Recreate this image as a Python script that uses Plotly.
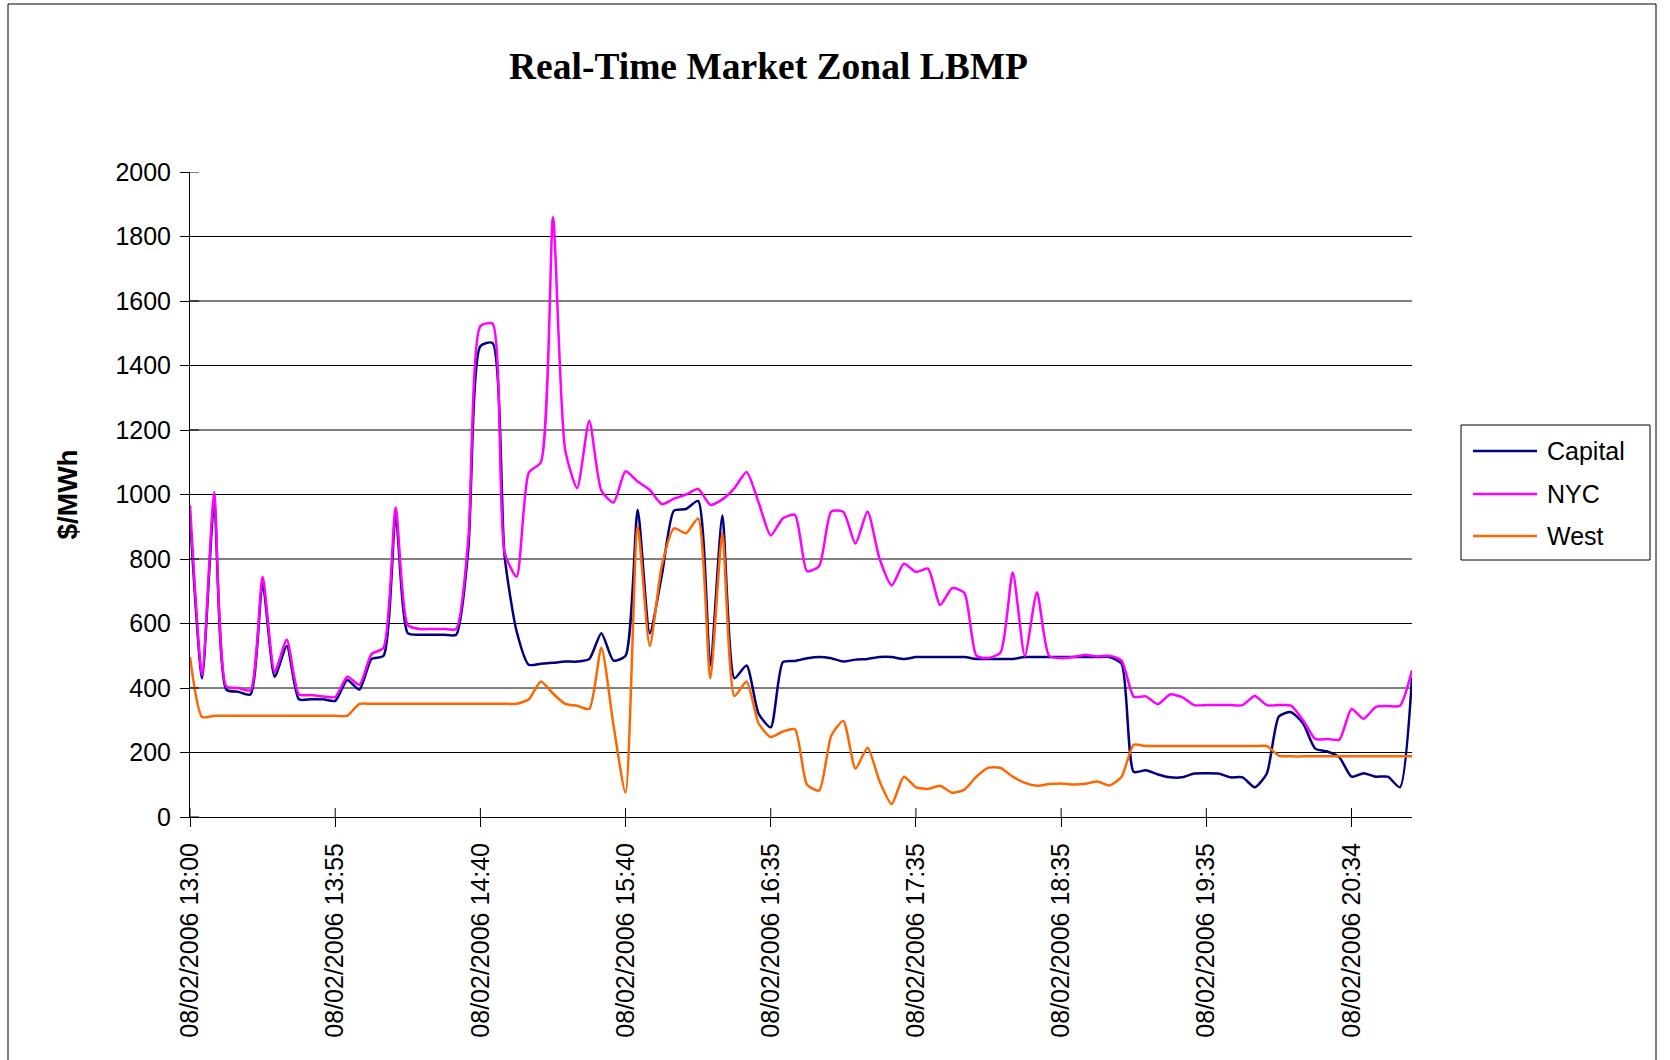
import plotly.graph_objects as go

# tick labels shown every 12 intervals
tick_labels = ["08/02/2006 13:00", "08/02/2006 13:55", "08/02/2006 14:40",
               "08/02/2006 15:40", "08/02/2006 16:35", "08/02/2006 17:35",
               "08/02/2006 18:35", "08/02/2006 19:35", "08/02/2006 20:34"]

capital = [933, 430, 975, 395, 388, 380, 725, 435, 530, 365,
           365, 365, 360, 425, 395, 490, 500, 935, 570, 565,
           565, 565, 565, 830, 1460, 1470, 810, 575, 472, 475,
           478, 482, 482, 490, 570, 485, 500, 953, 570, 750,
           950, 955, 980, 470, 935, 430, 470, 320, 278, 480,
           484, 492, 496, 492, 482, 488, 490, 496, 496, 490,
           496, 496, 496, 496, 496, 490, 490, 490, 490, 496,
           496, 496, 496, 496, 496, 496, 496, 475, 140, 145,
           132, 123, 123, 135, 136, 135, 123, 123, 92, 135,
           312, 325, 290, 212, 203, 185, 125, 136, 125, 125,
           92, 432]

nyc = [967, 440, 1007, 405, 400, 393, 745, 450, 550, 380,
       378, 374, 372, 435, 410, 505, 525, 960, 595, 583,
       583, 583, 583, 860, 1522, 1530, 820, 745, 1068, 1100,
       1860, 1140, 1020, 1229, 1012, 975, 1072, 1040, 1014, 970,
       987, 1000, 1017, 968, 985, 1020, 1070, 975, 873, 926,
       937, 762, 778, 947, 946, 848, 947, 800, 718, 785,
       760, 770, 657, 710, 695, 500, 493, 510, 758, 499,
       697, 500, 492, 496, 502, 498, 500, 485, 373, 374,
       350, 380, 372, 347, 347, 347, 347, 347, 375, 347,
       347, 345, 300, 242, 242, 240, 335, 305, 341, 344,
       345, 455]

west = [496, 310, 314, 314, 314, 314, 314, 314, 314, 314,
        314, 314, 314, 314, 351, 351, 351, 351, 351, 351,
        351, 351, 351, 351, 351, 351, 351, 351, 365, 420,
        383, 351, 345, 335, 525, 285, 75, 900, 530, 780,
        895, 880, 926, 430, 880, 375, 420, 290, 248, 265,
        272, 100, 82, 252, 298, 150, 215, 110, 40, 125,
        92, 87, 97, 75, 85, 125, 153, 152, 125, 106,
        97, 102, 104, 101, 103, 110, 98, 125, 224, 220,
        220, 220, 220, 220, 220, 220, 220, 220, 220, 220,
        190, 188, 188, 188, 188, 188, 188, 188, 188, 188,
        188, 188]

series = [("Capital", capital, "#000080"),
          ("NYC", nyc, "#FF00FF"),
          ("West", west, "#FF6600")]

x = list(range(len(capital)))

W, H = 1670, 1060
L, R, T, B = 190, 258, 172, 243
PW, PH = W - L - R, H - T - B


def px(v):
    # pixel x -> paper x
    return (v - L) / PW


def py(v):
    # pixel y -> paper y
    return (H - B - v) / PH


fig = go.Figure()
for name, vals, col in series:
    fig.add_trace(go.Scatter(x=x, y=vals, name=name, mode="lines",
                             line=dict(color=col, width=2.5, shape="spline", smoothing=0.6),
                             showlegend=False))

shapes = []
# horizontal gridlines (none at the top)
for g in range(200, 2000, 200):
    shapes.append(dict(type="line", xref="paper", yref="y", x0=0, x1=1, y0=g, y1=g,
                       line=dict(color="black", width=1), layer="below"))
# inner half of the crossing tick marks
for g in range(0, 2001, 200):
    shapes.append(dict(type="line", xref="paper", yref="y", x0=0, x1=9 / PW, y0=g, y1=g,
                       line=dict(color="black", width=1)))
for t in range(0, len(x), 12):
    shapes.append(dict(type="line", xref="x", yref="paper", x0=t, x1=t, y0=0, y1=9 / PH,
                       line=dict(color="black", width=1)))
# chart border
shapes.append(dict(type="rect", xref="paper", yref="paper", x0=px(8), x1=px(1656),
                   y0=py(1075), y1=py(4), line=dict(color="black", width=1)))
# legend box
shapes.append(dict(type="rect", xref="paper", yref="paper", x0=px(1461), x1=px(1650),
                   y0=py(560), y1=py(425), line=dict(color="black", width=1),
                   fillcolor="white"))

annotations = []
rows = [451, 494, 536]
for (name, vals, col), ry in zip(series, rows):
    shapes.append(dict(type="line", xref="paper", yref="paper", x0=px(1473), x1=px(1537),
                       y0=py(ry), y1=py(ry), line=dict(color=col, width=2.5)))
    annotations.append(dict(text=name, xref="paper", yref="paper", x=px(1545), y=py(ry),
                            xanchor="left", yanchor="middle", showarrow=False,
                            font=dict(family="Liberation Sans, Arial", size=25, color="black")))

annotations.append(dict(text="<b>Real-Time Market Zonal LBMP</b>", xref="paper", yref="paper",
                        x=px(768), y=py(67), xanchor="center", yanchor="middle", showarrow=False,
                        font=dict(family="Liberation Serif, Times New Roman, serif", size=37.5,
                                  color="black")))
annotations.append(dict(text="<b>$/MWh</b>", xref="paper", yref="paper",
                        x=px(67), y=0.5, xanchor="center", yanchor="middle", showarrow=False,
                        textangle=-90,
                        font=dict(family="Liberation Sans, Arial", size=28, color="black")))

fig.update_layout(
    width=W, height=H,
    margin=dict(l=L, r=R, t=T, b=B),
    paper_bgcolor="white", plot_bgcolor="white",
    font=dict(family="Liberation Sans, Arial", size=25, color="black"),
    shapes=shapes, annotations=annotations,
    showlegend=False,
)
fig.update_xaxes(range=[0, len(x) - 1], tickvals=list(range(0, len(x), 12)), ticktext=tick_labels,
                 tickangle=-90, ticks="outside", ticklen=9, tickcolor="black",
                 showline=True, linecolor="black", linewidth=1, showgrid=False, zeroline=False,
                 ticklabelstandoff=6)
fig.update_yaxes(range=[0, 2000], tickvals=list(range(0, 2001, 200)), ticks="outside", ticklen=9,
                 tickcolor="black", showline=True, linecolor="black", linewidth=1,
                 showgrid=False, zeroline=False, ticklabelstandoff=4)

# drop the default page margin so the figure sits at the window corner
fig.write_html("out.html", config={"displayModeBar": False},
               post_script="document.body.style.margin='0px';")
